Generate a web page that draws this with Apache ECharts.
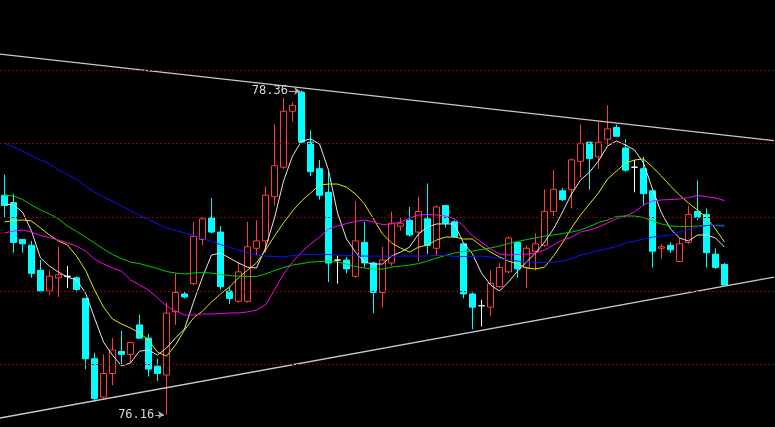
<!DOCTYPE html>
<html>
<head>
<meta charset="utf-8">
<script src="https://cdn.jsdelivr.net/npm/echarts@6/dist/echarts.min.js"></script>
<style>
html,body{margin:0;padding:0;background:#000;}
#c{width:775px;height:427px;}
</style>
</head>
<body>
<div id="c"></div>
<script>
// ---- data (prices) ----
// each candle: [open, close, lowest, highest]
const kline = [
[77.65,77.58,77.50,77.79],[77.60,77.33,77.26,77.66],[77.35,77.32,77.26,77.35],[77.31,77.12,77.09,77.34],
[77.14,77.00,76.99,77.21],[77.00,77.10,76.97,77.14],[77.09,77.11,76.96,77.30],[77.10,77.10,77.02,77.17],
[77.09,77.01,76.99,77.10],[76.95,76.54,76.47,76.95],[76.54,76.27,76.25,76.58],[76.28,76.44,76.27,76.57],
[76.44,76.60,76.36,76.68],[76.59,76.57,76.50,76.73],[76.57,76.65,76.51,76.65],[76.77,76.68,76.68,76.84],
[76.68,76.47,76.42,76.71],[76.49,76.44,76.39,76.54],[76.43,76.85,76.16,76.92],[76.86,76.99,76.77,77.12],
[76.98,76.96,76.95,77.00],[77.05,77.37,77.04,77.47],[77.35,77.49,77.31,77.50],[77.50,77.40,77.39,77.63],
[77.40,77.03,77.01,77.44],[77.00,76.95,76.91,77.03],[76.93,77.13,76.92,77.20],[76.93,77.30,76.92,77.47],
[77.29,77.34,77.24,77.48],[77.34,77.65,77.26,77.71],[77.64,77.85,77.58,78.13],[77.84,78.22,77.83,78.31],
[78.22,78.26,78.15,78.28],[78.35,78.01,78.00,78.36],[78.01,77.81,77.78,78.09],[77.83,77.65,77.62,77.89],
[77.67,77.19,77.06,77.81],[77.21,77.21,77.05,77.24],[77.21,77.15,77.12,77.23],[77.10,77.34,77.09,77.61],
[77.33,77.19,77.16,77.47],[77.19,76.99,76.85,77.20],[76.99,77.21,76.89,77.30],[77.19,77.46,77.17,77.54],
[77.44,77.46,77.41,77.50],[77.48,77.38,77.37,77.57],[77.40,77.54,77.20,77.64],[77.49,77.31,77.25,77.73],
[77.29,77.57,77.24,77.58],[77.58,77.46,77.43,77.58],[77.47,77.37,77.36,77.48],[77.32,76.98,76.95,77.32],
[76.98,76.89,76.74,76.99],[76.90,76.90,76.76,76.94],[76.89,77.05,76.83,77.14],[77.03,77.16,77.02,77.19],
[77.13,77.36,77.12,77.37],[77.33,77.15,77.09,77.33],[77.16,77.29,77.02,77.31],[77.27,77.32,77.14,77.39],
[77.31,77.54,77.30,77.69],[77.54,77.69,77.51,77.82],[77.68,77.62,77.61,77.70],[77.69,77.89,77.56,77.90],
[77.88,78.00,77.77,78.13],[78.01,77.90,77.69,78.01],[77.91,78.01,77.83,78.15],[78.03,78.10,77.99,78.26],
[78.11,78.05,78.05,78.13],[77.97,77.82,77.81,78.03],[77.84,77.84,77.67,77.89],[77.83,77.66,77.58,77.91],
[77.68,77.27,77.16,77.68],[77.29,77.30,77.22,77.32],[77.31,77.28,77.26,77.33],[77.20,77.32,77.20,77.36],
[77.33,77.52,77.32,77.58],[77.54,77.50,77.48,77.75],[77.52,77.26,77.16,77.56],[77.25,77.16,77.15,77.29],
[77.18,77.04,77.04,77.19]
];
const ma5 = [77.591,77.584,77.536,77.407,77.224,77.169,77.128,77.094,77.075,76.987,76.817,76.653,76.565,76.491,76.512,76.592,76.599,76.565,76.613,76.681,76.742,76.925,77.094,77.244,77.258,77.224,77.190,77.162,77.156,77.292,77.496,77.746,77.916,78.018,78.032,77.998,77.821,77.530,77.353,77.264,77.196,77.183,77.183,77.237,77.264,77.298,77.387,77.434,77.455,77.455,77.455,77.326,77.251,77.122,77.041,77.000,77.061,77.135,77.196,77.258,77.332,77.421,77.536,77.658,77.753,77.807,77.882,77.984,78.018,77.991,77.957,77.869,77.692,77.530,77.421,77.360,77.339,77.380,77.380,77.360,77.298];
const ma10 = [77.468,77.479,77.482,77.475,77.428,77.380,77.339,77.312,77.237,77.142,77.007,76.891,76.810,76.776,76.749,76.715,76.667,76.585,76.558,76.633,76.735,76.817,76.864,76.925,76.980,77.027,77.089,77.142,77.190,77.278,77.373,77.462,77.543,77.611,77.665,77.719,77.726,77.726,77.705,77.658,77.591,77.489,77.387,77.326,77.292,77.264,77.298,77.312,77.346,77.366,77.366,77.353,77.353,77.305,77.264,77.231,77.203,77.183,77.156,77.149,77.162,77.237,77.326,77.428,77.516,77.591,77.665,77.760,77.814,77.869,77.889,77.896,77.841,77.780,77.712,77.651,77.597,77.550,77.496,77.421,77.332];
const ma20 = [77.394,77.407,77.414,77.400,77.377,77.363,77.346,77.326,77.305,77.271,77.217,77.183,77.156,77.135,77.075,77.041,77.007,76.953,76.898,76.864,76.837,76.837,76.844,76.844,76.847,76.851,76.851,76.858,76.871,76.905,77.007,77.115,77.196,77.264,77.319,77.366,77.421,77.441,77.458,77.472,77.482,77.468,77.451,77.455,77.468,77.496,77.516,77.519,77.516,77.509,77.492,77.441,77.373,77.332,77.285,77.251,77.244,77.248,77.251,77.258,77.278,77.312,77.346,77.366,77.400,77.414,77.434,77.462,77.489,77.509,77.536,77.584,77.611,77.618,77.621,77.624,77.635,77.648,77.641,77.631,77.614];
const ma30 = [77.651,77.645,77.621,77.584,77.550,77.523,77.489,77.441,77.404,77.366,77.326,77.285,77.248,77.220,77.196,77.186,77.169,77.152,77.132,77.122,77.115,77.122,77.125,77.122,77.112,77.105,77.101,77.098,77.098,77.115,77.139,77.159,77.176,77.186,77.196,77.200,77.203,77.196,77.183,77.166,77.156,77.149,77.149,77.162,77.169,77.176,77.186,77.203,77.224,77.241,77.258,77.268,77.271,77.282,77.292,77.305,77.322,77.336,77.349,77.360,77.373,77.380,77.390,77.400,77.414,77.438,77.465,77.482,77.506,77.509,77.509,77.499,77.475,77.455,77.441,77.438,77.438,77.441,77.444,77.444,77.441];
const ma60 = [78.004,77.977,77.950,77.920,77.889,77.862,77.821,77.791,77.757,77.712,77.672,77.638,77.611,77.577,77.546,77.512,77.485,77.455,77.428,77.411,77.394,77.377,77.356,77.336,77.315,77.298,77.278,77.261,77.244,77.237,77.234,77.231,77.241,77.248,77.249,77.249,77.248,77.244,77.241,77.239,77.237,77.237,77.237,77.237,77.237,77.237,77.237,77.237,77.241,77.241,77.234,77.234,77.234,77.237,77.231,77.220,77.210,77.203,77.196,77.194,77.194,77.196,77.203,77.220,77.244,77.258,77.275,77.288,77.302,77.326,77.339,77.353,77.366,77.373,77.380,77.400,77.417,77.434,77.444,77.448,77.448];
const days = kline.map((_, i) => 'D' + (i + 1));
const gridPrices = [78.5, 78.0, 77.5, 77.0, 76.5];
// trend lines: [candle index, price]
const upperTrend = [[-0.5, 78.608], [85.5, 78.020]];
const lowerTrend = [[-0.5, 76.138], [85.5, 77.094]];
const highMark = {text: '78.36', price: 78.357, from: 31.6, to: 32.85};
const lowMark = {text: '76.16', price: 76.16, from: 16.75, to: 17.72};

// ---- build ----
const padCats = ['p1','p2','p3','p4','p5'];
const cats = days.concat(padCats);
const white = '#ffffff';
const candleData = kline.map(k => k[0] === k[1]
  ? {value: k, itemStyle: {color: white, color0: white, borderColor: white, borderColor0: white, borderColorDoji: white}}
  : k);

function maSeries(name, data, color) {
  return {name, type: 'line', data, showSymbol: false, symbol: 'none', smooth: false,
    lineStyle: {color, width: 1}, z: 3, silent: true};
}
function arrowMark(m) {
  return {
    silent: true, symbol: ['none', 'arrow'], symbolSize: 6, animation: false,
    lineStyle: {color: '#b0b0b0', width: 1, type: 'solid'},
    label: {show: true, position: 'start', distance: 1, formatter: m.text, color: '#d8d8d8',
      fontFamily: 'DejaVu Sans Mono', fontSize: 12},
    data: [[{coord: [m.from, m.price]}, {coord: [m.to, m.price]}]]
  };
}

const chart = echarts.init(document.getElementById('c'), null, {renderer: 'canvas'});
chart.setOption({
  backgroundColor: '#000',
  animation: false,
  grid: {left: 0, right: 1, top: 0, bottom: 0, containLabel: false},
  xAxis: [
    {type: 'category', data: cats, show: false, boundaryGap: true},
    {type: 'value', min: -0.5, max: 85.5, show: false}
  ],
  yAxis: {type: 'value', min: 76.077, max: 78.975, show: false, splitLine: {show: false}, scale: true},
  series: [
    {
      type: 'candlestick', data: candleData, barWidth: 7, z: 2,
      itemStyle: {color: '#000', color0: '#00ffff', borderColor: '#ff3c3c', borderColor0: '#00ffff', borderWidth: 1},
      markLine: {
        silent: true, symbol: 'none', label: {show: false}, animation: false,
        lineStyle: {color: '#8c0000', type: [2, 2], width: 1},
        data: gridPrices.map(p => ({yAxis: p}))
      }
    },
    maSeries('MA5', ma5, '#e6e6e6'),
    maSeries('MA10', ma10, '#e6e600'),
    maSeries('MA20', ma20, '#ff00ff'),
    maSeries('MA30', ma30, '#00d000'),
    maSeries('MA60', ma60, '#1010ff'),
    {type: 'line', xAxisIndex: 1, data: upperTrend, showSymbol: false, symbol: 'none',
      lineStyle: {color: '#c8c8c8', width: 1.3}, z: 4, silent: true, markLine: arrowMark(highMark)},
    {type: 'line', xAxisIndex: 1, data: lowerTrend, showSymbol: false, symbol: 'none',
      lineStyle: {color: '#c8c8c8', width: 1.3}, z: 4, silent: true, markLine: arrowMark(lowMark)}
  ]
});
</script>
</body>
</html>
